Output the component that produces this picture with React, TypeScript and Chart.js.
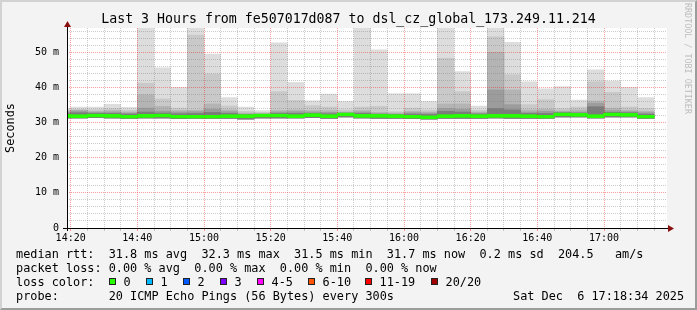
import React, { useEffect, useRef } from "react";
import { Chart, registerables } from "chart.js";

Chart.register(...registerables);

const MONO = '"DejaVu Sans Mono", monospace';

// ---- data (5-minute intervals, start time of each interval) ----
const intervalStart = [
  "14:15", "14:20", "14:25", "14:30", "14:35", "14:40", "14:45", "14:50", "14:55",
  "15:00", "15:05", "15:10", "15:15", "15:20", "15:25", "15:30", "15:35", "15:40", "15:45", "15:50", "15:55",
  "16:00", "16:05", "16:10", "16:15", "16:20", "16:25", "16:30", "16:35", "16:40", "16:45", "16:50", "16:55",
  "17:00", "17:05", "17:10",
];
// smoke levels (ms), from the outermost (max) ping down to the innermost band
const smokeMax = [34.0, 34.4, 34.4, 35.2, 34.3, 60, 45.6, 40.0, 60, 49.5, 37.1, 34.4, 33.4, 52.7, 41.4, 36.2, 38.1, 36.0, 60, 50.7, 38.2, 38.2, 36.0, 60, 44.5, 34.7, 60, 52.8, 41.6, 39.6, 40.2, 36.4, 45.0, 41.8, 40.0, 37.1];
const smokeL4 = [33.6, 33.8, 33.7, 34.0, 33.5, 41.2, 36.7, 34.1, 54.9, 43.8, 34.7, 33.2, 32.9, 38.8, 36.3, 34.8, 34.4, 33.6, 34.4, 34.6, 33.1, 34.1, 33.6, 48.3, 38.8, 33.5, 54.4, 43.6, 35.1, 36.5, 34.0, 34.4, 41.6, 38.6, 34.4, 34.0];
const smokeL3 = [33.3, 33.5, 33.2, 33.4, 33.0, 37.9, 34.6, 33.4, 33.5, 35.3, 33.6, 32.7, 32.6, 33.4, 33.6, 33.4, 33.4, 33.0, 33.4, 32.9, 32.7, 33.2, 33.0, 35.3, 35.3, 33.0, 50.0, 39.3, 33.6, 33.8, 33.3, 33.6, 36.1, 34.1, 33.5, 33.2];
const smokeL2 = [33.0, 33.3, 32.9, 33.0, 32.7, 34.1, 33.3, 33.0, 33.1, 33.8, 33.1, 32.4, 32.4, 33.0, 33.1, 33.0, 32.9, 32.8, 33.0, 32.6, 32.4, 32.8, 32.7, 34.0, 33.8, 32.7, 39.3, 35.1, 33.0, 33.2, 33.0, 33.0, 35.5, 33.4, 33.1, 32.8];
const smokeL1 = [32.6, 32.8, 32.6, 32.6, 32.4, 33.0, 32.7, 32.5, 32.6, 32.9, 32.6, 32.2, 32.2, 32.6, 32.6, 32.6, 32.5, 32.6, 32.6, 32.3, 32.2, 32.4, 32.3, 33.2, 33.0, 32.4, 34.0, 33.6, 32.6, 32.6, 32.8, 32.7, 34.5, 32.9, 32.8, 32.4];
const smokeMin = [31.3, 31.3, 31.4, 31.3, 31.2, 31.3, 31.3, 31.1, 31.2, 31.2, 31.2, 31.0, 31.3, 31.3, 31.3, 31.4, 31.2, 31.6, 31.3, 31.2, 31.2, 31.1, 31.0, 31.2, 31.2, 31.2, 31.3, 31.2, 31.2, 31.2, 31.6, 31.6, 31.3, 31.6, 31.6, 31.2];
const medianRtt = [31.9, 31.8, 32.0, 31.9, 31.7, 31.9, 32.0, 31.7, 31.7, 31.7, 31.8, 31.8, 32.0, 32.0, 31.8, 32.1, 31.8, 32.3, 31.9, 31.9, 31.8, 31.7, 31.5, 31.8, 31.9, 31.8, 31.9, 31.9, 31.8, 31.7, 32.3, 32.2, 31.8, 32.3, 32.2, 31.7];

const xTickLabels = ["14:20", "14:40", "15:00", "15:20", "15:40", "16:00", "16:20", "16:40", "17:00"];
const yTickValues = [0, 10, 20, 30, 40, 50];
const yTickLabels = ["0", "10 m", "20 m", "30 m", "40 m", "50 m"];

const titleText = "Last 3 Hours from fe507017d087 to dsl_cz_global_173.249.11.214";
const statsRtt = "median rtt:  31.8 ms avg  32.3 ms max  31.5 ms min  31.7 ms now  0.2 ms sd  204.5   am/s";
const statsLoss = "packet loss: 0.00 % avg  0.00 % max  0.00 % min  0.00 % now";
const probeLine = "probe:       20 ICMP Echo Pings (56 Bytes) every 300s";
const stampText = "Sat Dec  6 17:18:34 2025";
const lossLabels = ["0", "1", "2", "3", "4-5", "6-10", "11-19", "20/20"];
const lossColors = ["#26ff00", "#00b8ff", "#0059ff", "#7e00ff", "#ff00ff", "#ff5500", "#ff0000", "#a10000"];
const lossBoxX = [109, 146, 183, 220, 257, 308, 365, 431];

// ---- helpers ----
const toMin = (s: string) => {
  const [h, m] = s.split(":").map(Number);
  return (h - 14) * 60 + m;
};
const fmtMin = (v: number) => {
  const h = 14 + Math.floor(v / 60);
  const m = v % 60;
  return `${h}:${m < 10 ? "0" + m : m}`;
};
const centers = intervalStart.map((s) => toMin(s) + 2.5);
const xGridValues: number[] = [];
for (let v = 20; v <= 195; v += 5) xGridValues.push(v);
const yGridValues: number[] = [];
for (let v = 0; v <= 56; v += 2) yGridValues.push(v);

const MAJOR = "rgba(255,0,0,0.38)";
const MINOR = "rgba(120,120,120,0.38)";
const HALF_MEDIAN = 0.36;

const band = (label: string, hi: number[], color: string) => ({
  label,
  data: centers.map((x, i) => ({ x, y: [smokeMin[i], hi[i]] })),
  backgroundColor: color,
  borderWidth: 0,
  barPercentage: 1,
  categoryPercentage: 1,
  grouped: false,
  clip: 0,
});

const rrdPlugin = {
  id: "rrdDecor",
  beforeDraw(chart: any) {
    const { ctx, chartArea: a } = chart;
    ctx.save();
    ctx.fillStyle = "#ffffff";
    ctx.fillRect(a.left, a.top, a.right - a.left, a.bottom - a.top);
    ctx.restore();
  },
  afterDraw(chart: any) {
    const { ctx, chartArea: a } = chart;
    // median line above the grid
    ctx.save();
    ctx.beginPath();
    ctx.rect(a.left, a.top, a.right - a.left, a.bottom - a.top);
    ctx.clip();
    chart.getDatasetMeta(0).data.forEach((el: any) => el.draw(ctx));
    ctx.restore();
    // axes and arrows
    ctx.save();
    ctx.fillStyle = "#000";
    ctx.fillRect(a.left - 4, a.bottom, a.right + 1 - (a.left - 4), 1);
    ctx.fillRect(a.left, a.top - 1, 1, a.bottom - a.top + 4);
    ctx.fillStyle = "#8b1010";
    ctx.beginPath();
    ctx.moveTo(a.right + 1, a.bottom - 3);
    ctx.lineTo(a.right + 7, a.bottom + 0.5);
    ctx.lineTo(a.right + 1, a.bottom + 4);
    ctx.closePath();
    ctx.fill();
    ctx.beginPath();
    ctx.moveTo(a.left - 3, a.top - 1);
    ctx.lineTo(a.left + 0.5, a.top - 7);
    ctx.lineTo(a.left + 4, a.top - 1);
    ctx.closePath();
    ctx.fill();
    ctx.restore();
  },
};

export default function App() {
  const ref = useRef<HTMLCanvasElement>(null);

  useEffect(() => {
    document.body.style.margin = "0";
    const chart = new Chart(ref.current as HTMLCanvasElement, {
      type: "bar",
      data: {
        datasets: [
          {
            label: "median rtt",
            data: centers.map((x, i) => ({ x, y: [medianRtt[i] - HALF_MEDIAN, medianRtt[i] + HALF_MEDIAN] })),
            backgroundColor: lossColors[0],
            borderWidth: 0,
            barPercentage: 1,
            categoryPercentage: 1,
            grouped: false,
            clip: 0,
          } as any,
          band("smoke 1", smokeL1, "#7c7c7c"),
          band("smoke 2", smokeL2, "#9c9c9c"),
          band("smoke 3", smokeL3, "#b4b4b4"),
          band("smoke 4", smokeL4, "#c9c9c9"),
          band("smoke max", smokeMax, "#dddddd"),
        ],
      },
      options: {
        responsive: false,
        animation: false,
        events: [],
        layout: { padding: { left: 0, right: 0, top: 0, bottom: 62 } },
        plugins: {
          legend: { display: false },
          tooltip: { enabled: false },
          title: {
            display: true,
            text: titleText,
            color: "#000",
            font: { family: MONO, size: 13.25, weight: "normal", lineHeight: 1.2 },
            padding: { top: 12, bottom: 0.1 },
          },
        },
        scales: {
          x: {
            type: "linear",
            min: 18.9,
            max: 198.9,
            bounds: "data",
            offset: false,
            afterBuildTicks: (s: any) => {
              s.ticks = xGridValues.map((value) => ({ value }));
            },
            afterFit: (s: any) => {
              s.height = 20;
            },
            grid: {
              z: 1,
              offset: false,
              lineWidth: 1,
              color: (c: any) => (c.tick && c.tick.value % 20 === 0 ? MAJOR : MINOR),
              drawTicks: true,
              tickLength: 3,
              tickColor: (c: any) => (c.tick && c.tick.value % 20 === 0 ? MAJOR : MINOR),
              tickBorderDash: [],
            },
            border: { display: false, dash: [1, 1] },
            ticks: {
              autoSkip: false,
              maxRotation: 0,
              minRotation: 0,
              padding: 1,
              color: "#000",
              font: { family: MONO, size: 10 },
              callback: (v: any) => {
                const s = fmtMin(Number(v));
                return xTickLabels.includes(s) ? s : "";
              },
            },
          },
          y: {
            type: "linear",
            min: 0,
            max: 56.9,
            bounds: "data",
            afterBuildTicks: (s: any) => {
              s.ticks = yGridValues.map((value) => ({ value }));
            },
            afterFit: (s: any) => {
              s.width = 67;
            },
            grid: {
              z: 1,
              lineWidth: 1,
              color: (c: any) => (c.tick && c.tick.value % 10 === 0 ? MAJOR : MINOR),
              drawTicks: false,
            },
            border: { display: false, dash: [1, 1] },
            ticks: {
              autoSkip: false,
              padding: 8,
              color: "#000",
              font: { family: MONO, size: 10 },
              callback: (v: any) => {
                const k = yTickValues.indexOf(Number(v));
                return k >= 0 ? yTickLabels[k] : "";
              },
            },
            title: {
              display: true,
              text: "Seconds",
              color: "#000",
              font: { family: MONO, size: 11.85 },
              padding: { top: 3.4, bottom: 0 },
            },
          },
          // empty right-hand margin box (keeps the title centred on the whole image)
          yRight: {
            type: "linear",
            position: "right",
            display: true,
            min: 0,
            max: 56.9,
            grid: { display: false, drawTicks: false },
            border: { display: false },
            ticks: { display: false },
            afterFit: (s: any) => {
              s.width = 30;
            },
          },
        },
      } as any,
      plugins: [rrdPlugin],
    });
    return () => chart.destroy();
  }, []);

  const textStyle: React.CSSProperties = {
    position: "absolute",
    fontFamily: MONO,
    fontSize: "11.85px",
    lineHeight: "14px",
    whiteSpace: "pre",
    color: "#000",
    margin: 0,
  };

  return (
    <div
      style={{
        position: "absolute",
        left: 0,
        top: 0,
        width: 697,
        height: 310,
        background: "#f3f3f3",
        overflow: "hidden",
      }}
    >
      <canvas ref={ref} width={697} height={310} style={{ position: "absolute", left: 0, top: 0 }} />
      <div style={{ ...textStyle, left: 16, top: 246.5 }}>{statsRtt}</div>
      <div style={{ ...textStyle, left: 16, top: 261 }}>{statsLoss}</div>
      <div style={{ ...textStyle, left: 16, top: 275 }}>loss color:</div>
      {lossLabels.map((lab, i) => (
        <React.Fragment key={lab}>
          <div
            style={{
              position: "absolute",
              left: lossBoxX[i],
              top: 278,
              width: 7,
              height: 7,
              boxSizing: "border-box",
              border: "1px solid #222",
              background: lossColors[i],
            }}
          />
          <div style={{ ...textStyle, left: lossBoxX[i] + 14.5, top: 275 }}>{lab}</div>
        </React.Fragment>
      ))}
      <div style={{ ...textStyle, left: 16, top: 289 }}>{probeLine}</div>
      <div style={{ ...textStyle, left: 513, top: 289 }}>{stampText}</div>
      <div
        style={{
          position: "absolute",
          left: 683,
          top: 3,
          writingMode: "vertical-rl",
          fontFamily: MONO,
          fontSize: "8.4px",
          lineHeight: "10px",
          whiteSpace: "pre",
          color: "#bdbdbd",
        }}
      >
        RRDTOOL / TOBI OETIKER
      </div>
      <div
        style={{
          position: "absolute",
          left: 0,
          top: 0,
          width: 697,
          height: 310,
          boxSizing: "border-box",
          borderStyle: "solid",
          borderWidth: 2,
          borderColor: "#d2d2d2 #9c9c9c #9c9c9c #d2d2d2",
          pointerEvents: "none",
        }}
      />
    </div>
  );
}
